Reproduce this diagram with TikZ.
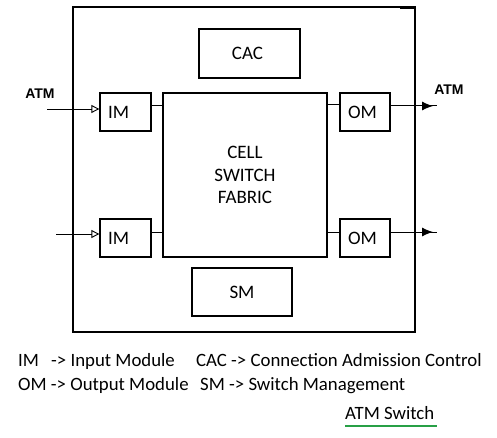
\documentclass[tikz,border=0pt]{standalone}
\usepackage{fontspec}
\setmainfont{Liberation Sans}
\newfontfamily\legfont{Carlito}
\usetikzlibrary{arrows.meta,calc}
\definecolor{ulgreen}{RGB}{40,160,70}
\tikzset{
  modbox/.style={draw, line width=1.3pt, inner sep=0pt, font=\legfont\fontsize{19}{23}\selectfont},
  smallmod/.style={modbox, inner xsep=8pt, align=left, minimum height=38pt},
  conn/.style={line width=1pt},
  inarrow/.style={line width=0.9pt, -{Triangle[open,length=8pt,width=8pt]}},
  outarrow/.style={line width=1pt},
  atmlab/.style={font=\bfseries\fontsize{14}{16}\selectfont},
  leg/.style={font=\legfont\fontsize{18.8}{22}\selectfont, anchor=base west, inner sep=0pt}
}
\begin{document}
\begin{tikzpicture}[x=1pt,y=-1pt]
\useasboundingbox (0,0) rectangle (497,438);
% outer frame
\draw[line width=1.6pt] (73,7) rectangle (415,332);
\draw[line width=3pt] (400,7.5) -- (414,7.5);
% boxes
\node[modbox, minimum width=101pt, minimum height=49pt] (CAC) at (249.5,53.5) {\hspace*{-4pt}CAC};
\node[modbox, minimum width=100pt, minimum height=48pt] (SM) at (242,292) {SM};
\node[modbox, minimum width=164pt, minimum height=164pt, align=center] (F) at (245,175) {CELL\\[-0.5pt]SWITCH\\[-0.5pt]FABRIC};
\node[smallmod, text width=35pt] (IM1) at (125.5,112) {IM};
\node[smallmod, text width=35pt] (IM2) at (125.5,238) {IM};
\node[smallmod, text width=34pt] (OM1) at (365,112) {OM};
\node[smallmod, text width=34pt] (OM2) at (365,238) {OM};
% module to fabric connections
\draw[conn] (IM1.east) ++(0,-6) coordinate (c1) -- (c1 -| F.west);
\draw[conn] (IM2.east) ++(0,-6) coordinate (c2) -- (c2 -| F.west);
\draw[conn] (OM1.west) ++(0,-7) coordinate (c3) -- (c3 -| F.east);
\draw[conn] (OM2.west) ++(0,-6) coordinate (c4) -- (c4 -| F.east);
% inputs
\coordinate (in1) at (47,109);
\coordinate (in2) at (56,234);
\draw[inarrow] (in1) -- (in1 -| IM1.west);
\draw[inarrow] (in2) -- (in2 -| IM2.west);
% outputs
\coordinate (o1) at (437,106);
\coordinate (o2) at (437,232);
\coordinate (t1) at (433,106);
\coordinate (t2) at (433,232);
\draw[outarrow] (OM1.east |- o1) -- (o1);
\draw[outarrow] (OM2.east |- o2) -- (o2);
\draw[outarrow, -{Latex[length=11pt,width=9pt]}] (OM1.east |- t1) -- (t1);
\draw[outarrow, -{Latex[length=11pt,width=9pt]}] (OM2.east |- t2) -- (t2);
% ATM labels
\node[atmlab] (atmL) at (40,94) {ATM};
\node[atmlab] (atmR) at (449,90) {ATM};
% legend
\node[leg] (l1a) at (18,366) {IM};
\node[leg] (l1b) at (51,366) {-> Input Module};
\node[leg] (l1c) at (196,366) {CAC -> Connection Admission Control};
\node[leg] (l2a) at (18,390) {OM -> Output Module};
\node[leg] (l2b) at (200,390) {SM -> Switch Management};
\node[leg] (title) at (345,419) {ATM Switch};
\draw[ulgreen, line width=2pt] (345,426) -- (437,426);
\end{tikzpicture}
\end{document}
